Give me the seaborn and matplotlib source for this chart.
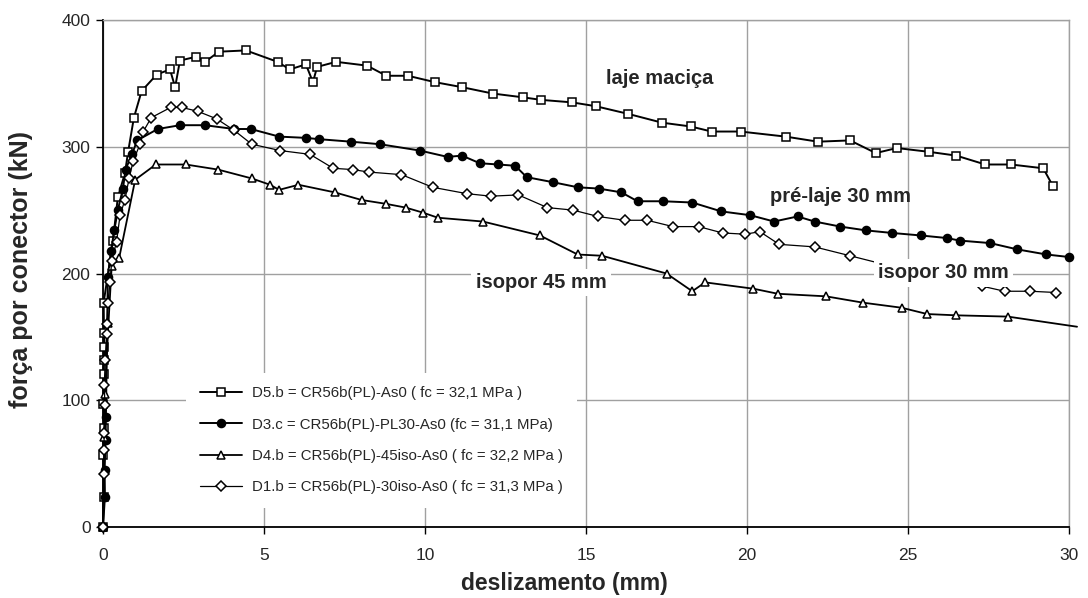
import matplotlib
matplotlib.use("Agg")
import matplotlib.pyplot as plt
import seaborn as sns
import pandas as pd

# curves (slip in mm, force per connector in kN)
d5_x = [0, 0.02, 0.01, 0.03, 0.01, 0.02, 0.03, 0.04, 0.03, 0.02, 0.31, 0.46, 0.68, 0.78, 0.96, 1.2,
        1.67, 2.08, 2.24, 2.39, 2.89, 3.17, 3.6, 4.44, 5.42, 5.8, 6.3, 6.52, 6.65, 7.24, 8.2, 8.8,
        9.47, 10.3, 11.15, 12.1, 13.04, 13.6, 14.57, 15.3, 16.3, 17.36, 18.25, 18.9, 19.8, 21.2,
        22.2, 23.2, 24.0, 24.65, 25.65, 26.5, 27.4, 28.2, 29.2, 29.5]
d5_y = [0, 24, 57, 78, 97, 121, 132, 142, 153, 177, 226, 260, 279, 296, 323, 344,
        357, 361, 347, 368, 371, 367, 375, 376, 367, 361, 365, 351, 363, 367, 364, 356,
        356, 351, 347, 342, 339, 337, 335, 332, 326, 319, 316, 312, 312, 308,
        304, 305, 295, 299, 296, 293, 286, 286, 283, 269]

d3_x = [0, 0.06, 0.05, 0.08, 0.09, 0.15, 0.25, 0.35, 0.46, 0.62, 0.7, 0.9, 1.06, 1.7, 2.39, 3.17,
        4.07, 4.59, 5.47, 6.3, 6.7, 7.7, 8.6, 9.84, 10.7, 11.15, 11.7, 12.27, 12.8, 13.16, 13.98,
        14.75, 15.4, 16.1, 16.6, 17.4, 18.3, 19.2, 20.1, 20.84, 21.57, 22.1, 22.9, 23.7, 24.5,
        25.4, 26.2, 26.6, 27.55, 28.4, 29.3, 30.0]
d3_y = [0, 24, 45, 69, 87, 197, 218, 234, 250, 267, 282, 294, 305, 314, 317, 317,
        314, 314, 308, 307, 306, 304, 302, 297, 292, 293, 287, 286, 285, 276, 272,
        268, 267, 264, 257, 257, 256, 249, 246, 241, 245, 241, 237, 234, 232,
        230, 228, 226, 224, 219, 215, 213]

d4_x = [0, 0.04, 0.06, 0.17, 0.27, 0.5, 1.0, 1.64, 2.57, 3.57, 4.62, 5.19, 5.47, 6.07, 7.2, 8.03,
        8.78, 9.4, 9.94, 10.4, 11.8, 13.57, 14.74, 15.5, 17.5, 18.3, 18.7, 20.2, 20.96, 22.45,
        23.6, 24.8, 25.6, 26.5, 28.1, 30.25]
d4_y = [0, 71, 105, 161, 206, 212, 274, 286, 286, 282, 275, 270, 266, 270, 264, 258,
        255, 252, 248, 244, 241, 230, 215, 214, 200, 186, 193, 188, 184, 182,
        177, 173, 168, 167, 166, 158]

d1_x = [0, 0.02, 0.04, 0.03, 0.06, 0.04, 0.07, 0.11, 0.13, 0.15, 0.22, 0.27, 0.42, 0.53, 0.68, 0.81,
        0.94, 1.15, 1.25, 1.5, 2.1, 2.45, 2.94, 3.53, 4.07, 4.62, 5.5, 6.43, 7.15, 7.75, 8.27,
        9.27, 10.24, 11.3, 12.04, 12.9, 13.8, 14.6, 15.37, 16.2, 16.9, 17.7, 18.5, 19.24, 19.94,
        20.4, 21.0, 22.1, 23.2, 24.6, 26.0, 27.3, 28.0, 28.8, 29.6]
d1_y = [0, 42, 61, 74, 96, 112, 132, 152, 160, 177, 193, 210, 225, 246, 258, 275,
        289, 302, 312, 323, 331, 331, 328, 322, 313, 302, 297, 294, 283, 282, 280,
        278, 268, 263, 261, 262, 252, 250, 245, 242, 242, 237, 237, 232, 231,
        233, 223, 221, 214, 205, 197, 190, 186, 186, 185]

labels = ["D5.b = CR56b(PL)-As0 ( fc = 32,1 MPa )",
          "D3.c = CR56b(PL)-PL30-As0 (fc = 31,1 MPa)",
          "D4.b = CR56b(PL)-45iso-As0 ( fc = 32,2 MPa )",
          "D1.b = CR56b(PL)-30iso-As0 ( fc = 31,3 MPa )"]

sns.set_style("white")
plt.rcParams['font.family'] = ['Liberation Sans', 'DejaVu Sans']

fig = plt.figure(figsize=(10.88, 5.98), dpi=100)
ax = fig.add_axes([103 / 1088, 1 - 527 / 598, 966 / 1088, 507 / 598])

series = [
    (d5_x, d5_y, dict(marker='s', markersize=5.6, markerfacecolor='white', linewidth=1.4)),
    (d3_x, d3_y, dict(marker='o', markersize=5.8, markerfacecolor='black', linewidth=1.4)),
    (d4_x, d4_y, dict(marker='^', markersize=6.2, markerfacecolor='white', linewidth=1.3,
                      markevery=list(range(len(d4_x) - 1)))),
    (d1_x, d1_y, dict(marker='D', markersize=4.6, markerfacecolor='white', linewidth=0.9)),
]
for (xs, ys, style), lab in zip(series, labels):
    df = pd.DataFrame({'x': xs, 'y': ys})
    sns.lineplot(data=df, x='x', y='y', sort=False, estimator=None, ax=ax, color='black',
                 markeredgecolor='black', markeredgewidth=1.1, label=lab, clip_on=False,
                 zorder=3, **style)

ax.set_xlim(0, 30)
ax.set_ylim(0, 400)
ax.set_xticks([0, 5, 10, 15, 20, 25, 30])
ax.set_yticks([0, 100, 200, 300, 400])
ax.grid(True, color='#a0a0a0', linewidth=1.0)
ax.set_axisbelow(True)
for side in ['top', 'right']:
    ax.spines[side].set_color('#a0a0a0')
    ax.spines[side].set_linewidth(1.0)
for side in ['left', 'bottom']:
    ax.spines[side].set_color('black')
    ax.spines[side].set_linewidth(1.3)
ax.tick_params(axis='both', direction='out', length=5, width=1, color='black',
               labelsize=12.5, bottom=True, left=True)
ax.tick_params(axis='x', pad=10)
ax.tick_params(axis='y', pad=4)

ax.set_xlabel('deslizamento (mm)', fontsize=16.5, fontweight='bold')
ax.xaxis.set_label_coords((564 - 103) / 966, -0.088)
ax.set_ylabel('força por conector (kN)', fontsize=18, fontweight='bold')
ax.yaxis.set_label_coords(-0.072, (527 - 270) / 507)

box = dict(facecolor='white', edgecolor='none', pad=3)
ax.text(17.3, 353.5, 'laje maciça', fontsize=14.5, fontweight='bold', ha='center', va='center', zorder=5)
ax.text(22.9, 260.5, 'pré-laje 30 mm', fontsize=14.5, fontweight='bold', ha='center', va='center', zorder=5)
ax.text(13.6, 193, 'isopor 45 mm', fontsize=14.5, fontweight='bold', ha='center', va='center',
        bbox=box, zorder=5)
ax.text(26.1, 200.5, 'isopor 30 mm', fontsize=14.5, fontweight='bold', ha='center', va='center',
        bbox=box, zorder=5)

leg = ax.legend(loc='center left', bbox_to_anchor=(0.086, 0.171), borderaxespad=0,
                fontsize=10.8, frameon=True, facecolor='white', edgecolor='none', framealpha=1,
                handlelength=2.85, handletextpad=0.66, labelspacing=1.15, borderpad=0.9)
leg.set_zorder(4)

fig.savefig('out.png', dpi=100)
